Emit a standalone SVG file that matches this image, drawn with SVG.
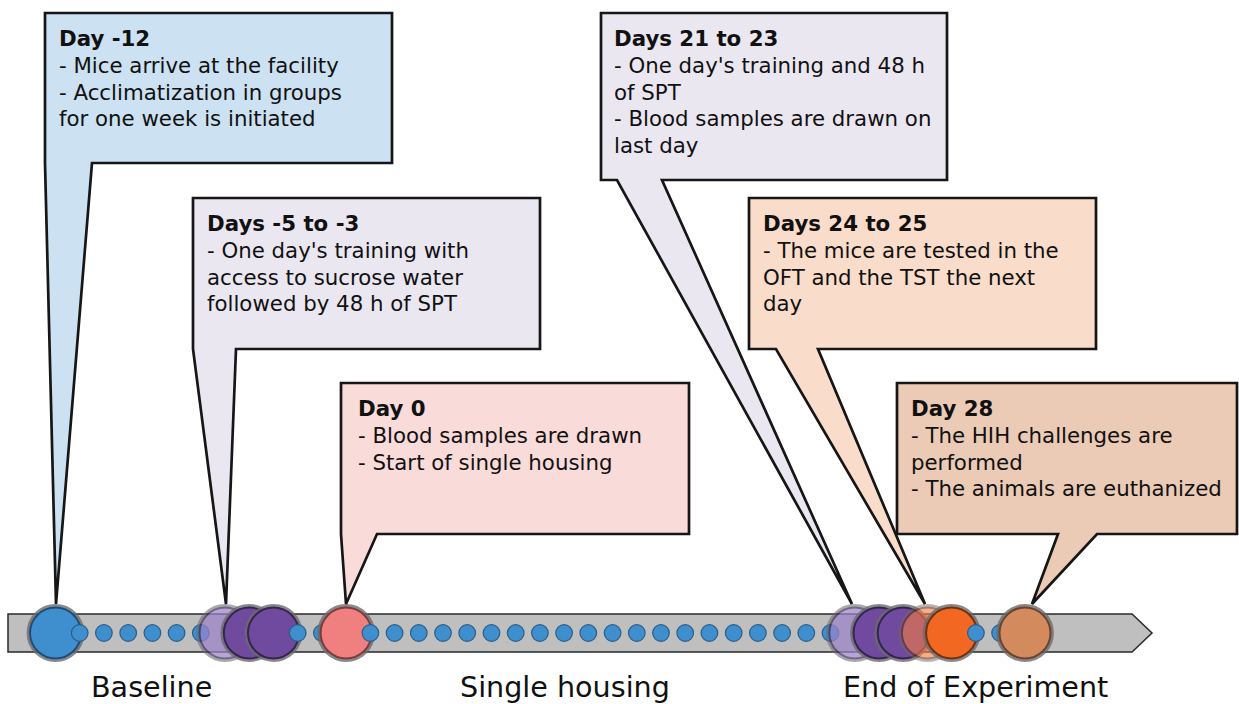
<svg xmlns="http://www.w3.org/2000/svg" width="1239" height="704" viewBox="0 0 1239 704">
<style>
.box{stroke:#161616;stroke-width:2.7;stroke-linejoin:miter}
.t{font-family:"DejaVu Sans","Liberation Sans",sans-serif;font-size:21.3px;fill:#111}
.b{font-weight:bold}
.lbl{font-family:"DejaVu Sans","Liberation Sans",sans-serif;font-size:28.6px;fill:#111}
.dot{fill:#3f8fcf;stroke:#2a5d88;stroke-width:1.2}
.halo{fill:none;stroke:#6c6c6c;stroke-opacity:0.8;stroke-width:2.8}
.big{stroke-width:2}
</style>
<rect width="1239" height="704" fill="#ffffff"/>
<g id="connectors">
<polygon id="timeline-bar" points="8,614 1132,614 1152,633 1132,652 8,652" fill="#bfbfbf" stroke="#2a2a2a" stroke-width="1.5"/>
</g>
<g id="timeline-points">
<g id="day-m12"><circle cx="55.5" cy="633" r="27.5" class="halo"/><circle cx="55.5" cy="633" r="25.5" class="big" fill="#3f8fcf" stroke="#1f4d75"/></g>
<circle class="dot" cx="79.7" cy="633" r="8.3"/>
<circle class="dot" cx="103.9" cy="633" r="8.3"/>
<circle class="dot" cx="128.2" cy="633" r="8.3"/>
<circle class="dot" cx="152.4" cy="633" r="8.3"/>
<circle class="dot" cx="176.6" cy="633" r="8.3"/>
<circle class="dot" cx="200.8" cy="633" r="8.3"/>
<g id="day-m5" opacity="0.72"><circle cx="225" cy="633" r="27.5" class="halo"/><circle cx="225" cy="633" r="25.5" class="big" fill="#9a83c7" stroke="#3c2d5a"/></g>
<g id="day-m4"><circle cx="249.3" cy="633" r="27.5" class="halo"/><circle cx="249.3" cy="633" r="25.5" class="big" fill="#6f4a9e" stroke="#35254f"/></g>
<g id="day-m3"><circle cx="273.5" cy="633" r="27.5" class="halo"/><circle cx="273.5" cy="633" r="25.5" class="big" fill="#6f4a9e" stroke="#35254f"/></g>
<circle class="dot" cx="297.7" cy="633" r="8.3"/>
<circle class="dot" cx="321.9" cy="633" r="8.3"/>
<g id="day-0"><circle cx="346.1" cy="633" r="27.5" class="halo"/><circle cx="346.1" cy="633" r="25.5" class="big" fill="#f07f7f" stroke="#7a3c3c"/></g>
<circle class="dot" cx="370.4" cy="633" r="8.3"/>
<circle class="dot" cx="394.6" cy="633" r="8.3"/>
<circle class="dot" cx="418.8" cy="633" r="8.3"/>
<circle class="dot" cx="443" cy="633" r="8.3"/>
<circle class="dot" cx="467.2" cy="633" r="8.3"/>
<circle class="dot" cx="491.5" cy="633" r="8.3"/>
<circle class="dot" cx="515.7" cy="633" r="8.3"/>
<circle class="dot" cx="539.9" cy="633" r="8.3"/>
<circle class="dot" cx="564.1" cy="633" r="8.3"/>
<circle class="dot" cx="588.3" cy="633" r="8.3"/>
<circle class="dot" cx="612.6" cy="633" r="8.3"/>
<circle class="dot" cx="636.8" cy="633" r="8.3"/>
<circle class="dot" cx="661" cy="633" r="8.3"/>
<circle class="dot" cx="685.2" cy="633" r="8.3"/>
<circle class="dot" cx="709.4" cy="633" r="8.3"/>
<circle class="dot" cx="733.7" cy="633" r="8.3"/>
<circle class="dot" cx="757.9" cy="633" r="8.3"/>
<circle class="dot" cx="782.1" cy="633" r="8.3"/>
<circle class="dot" cx="806.3" cy="633" r="8.3"/>
<circle class="dot" cx="830.5" cy="633" r="8.3"/>
<g id="day-21" opacity="0.72"><circle cx="854.8" cy="633" r="27.5" class="halo"/><circle cx="854.8" cy="633" r="25.5" class="big" fill="#9a83c7" stroke="#3c2d5a"/></g>
<g id="day-22"><circle cx="879" cy="633" r="27.5" class="halo"/><circle cx="879" cy="633" r="25.5" class="big" fill="#6f4a9e" stroke="#35254f"/></g>
<g id="day-23"><circle cx="903.2" cy="633" r="27.5" class="halo"/><circle cx="903.2" cy="633" r="25.5" class="big" fill="#6f4a9e" stroke="#35254f"/></g>
<g id="day-24" opacity="0.62"><circle cx="927.4" cy="633" r="27.5" class="halo"/><circle cx="927.4" cy="633" r="25.5" class="big" fill="#f37b46" stroke="#6a3018"/></g>
<g id="day-25"><circle cx="951.6" cy="633" r="27.5" class="halo"/><circle cx="951.6" cy="633" r="25.5" class="big" fill="#f26822" stroke="#6e3212"/></g>
<circle class="dot" cx="975.9" cy="633" r="8.3"/>
<circle class="dot" cx="1000.1" cy="633" r="8.3"/>
<g id="day-28"><circle cx="1025" cy="633" r="27.5" class="halo"/><circle cx="1025" cy="633" r="25.5" class="big" fill="#d38b5d" stroke="#6a4430"/></g>
</g>
<g id="callout-day-m12">
<path class="box" fill="#cce1f1" d="M45,13 H392 V163 H92 L56,604 L45,163 Z"/>
<text class="t b" x="59" y="46">Day -12</text>
<text class="t" x="59" y="73">- Mice arrive at the facility</text>
<text class="t" x="59" y="99.5">- Acclimatization in groups</text>
<text class="t" x="59" y="126">for one week is initiated</text>
</g>
<g id="callout-days-m5-m3">
<path class="box" fill="#eae7f1" d="M193,198 H540 V349 H236 L226,604 L193,349 Z"/>
<text class="t b" x="207" y="231">Days -5 to -3</text>
<text class="t" x="207" y="258">- One day's training with</text>
<text class="t" x="207" y="284.5">access to sucrose water</text>
<text class="t" x="207" y="311">followed by 48 h of SPT</text>
</g>
<g id="callout-day-0">
<path class="box" fill="#f9dbda" d="M341,383 H689 V534 H377 L346,604 L341,534 Z"/>
<text class="t b" x="358" y="416">Day 0</text>
<text class="t" x="358" y="443">- Blood samples are drawn</text>
<text class="t" x="358" y="469.5">- Start of single housing</text>
</g>
<g id="callout-days-21-23">
<path class="box" fill="#eae7f1" d="M601,13 H947 V180 H662 L852,604 L617,180 H601 Z"/>
<text class="t b" x="614" y="46">Days 21 to 23</text>
<text class="t" x="614" y="73">- One day's training and 48 h</text>
<text class="t" x="614" y="99.5">of SPT</text>
<text class="t" x="614" y="126">- Blood samples are drawn on</text>
<text class="t" x="614" y="152.5">last day</text>
</g>
<g id="callout-days-24-25">
<path class="box" fill="#fadcca" d="M749,198 H1096 V349 H818 L925,604 L776,349 H749 Z"/>
<text class="t b" x="763" y="231">Days 24 to 25</text>
<text class="t" x="763" y="258">- The mice are tested in the</text>
<text class="t" x="763" y="284.5">OFT and the TST the next</text>
<text class="t" x="763" y="311">day</text>
</g>
<g id="callout-day-28">
<path class="box" fill="#ebcbb5" d="M897,383 H1237 V534 H1097 L1032,604 L1058,534 H897 Z"/>
<text class="t b" x="911" y="416">Day 28</text>
<text class="t" x="911" y="443">- The HIH challenges are</text>
<text class="t" x="911" y="469.5">performed</text>
<text class="t" x="911" y="496">- The animals are euthanized</text>
</g>
<g id="phase-labels">
<text class="lbl" x="91" y="697">Baseline</text>
<text class="lbl" x="460" y="697">Single housing</text>
<text class="lbl" x="843" y="697">End of Experiment</text>
</g>
</svg>
